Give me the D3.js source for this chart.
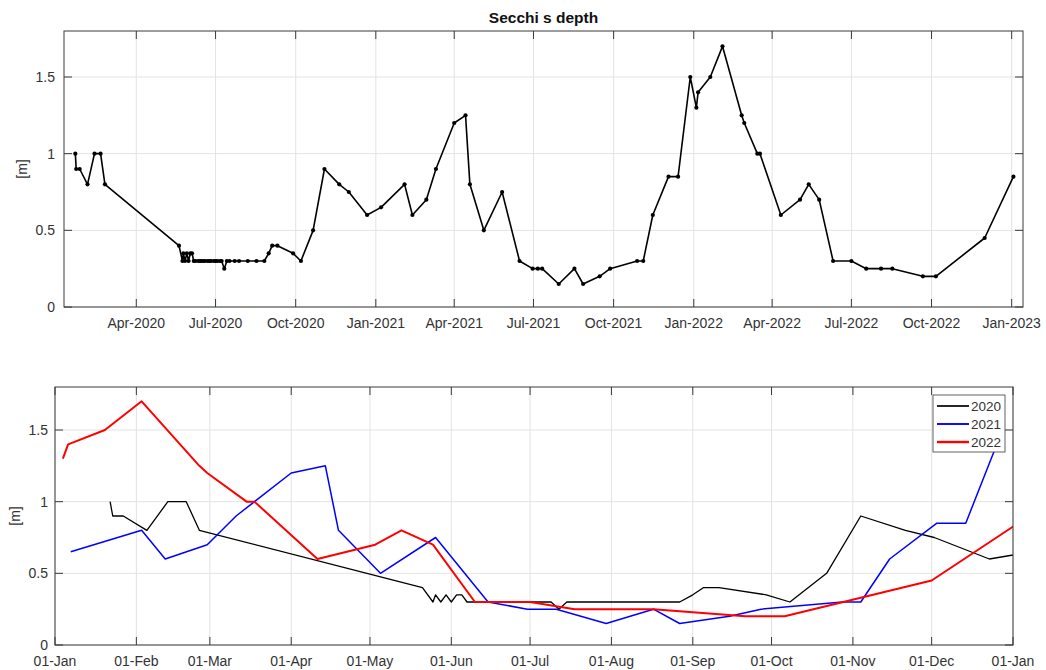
<!DOCTYPE html>
<html>
<head>
<meta charset="utf-8">
<script src="https://cdn.jsdelivr.net/npm/d3@7"></script>
<style>
  html, body { margin: 0; padding: 0; background: #fff; }
  svg { display: block; font-family: "Liberation Sans", Arial, sans-serif; }
</style>
</head>
<body>
<svg id="chart" width="1046" height="670"></svg>
<script>
// ---------------- DATA ----------------
const sampleDates = [
  "2020-01-22","2020-01-23","2020-01-27","2020-02-05","2020-02-13","2020-02-20","2020-02-25",
  "2020-05-20","2020-05-24","2020-05-25","2020-05-27","2020-05-29","2020-05-31","2020-06-02",
  "2020-06-04","2020-06-06","2020-06-08","2020-06-11","2020-06-13","2020-06-15","2020-06-17",
  "2020-06-19","2020-06-22","2020-06-24","2020-06-26","2020-06-29","2020-07-01","2020-07-03",
  "2020-07-06","2020-07-08","2020-07-11","2020-07-14","2020-07-17","2020-07-23","2020-07-28",
  "2020-08-07","2020-08-17","2020-08-26","2020-08-31","2020-09-04","2020-09-10","2020-09-28",
  "2020-10-07","2020-10-21","2020-11-03","2020-11-20","2020-12-01","2020-12-22",
  "2021-01-07","2021-02-03","2021-02-12","2021-02-28","2021-03-11","2021-04-01","2021-04-14",
  "2021-04-19","2021-05-05","2021-05-26","2021-06-15","2021-06-30","2021-07-06","2021-07-11",
  "2021-07-30","2021-08-17","2021-08-27","2021-09-15","2021-09-27","2021-10-28","2021-11-04",
  "2021-11-15","2021-12-03","2021-12-14","2021-12-28",
  "2022-01-04","2022-01-06","2022-01-20","2022-02-03","2022-02-25","2022-02-28","2022-03-15",
  "2022-03-18","2022-04-11","2022-05-03","2022-05-13","2022-05-25","2022-06-10","2022-07-01",
  "2022-07-18","2022-08-04","2022-08-17","2022-09-21","2022-10-06","2022-12-01","2023-01-03"
];
const secchiDepth = [
  1.00,0.90,0.90,0.80,1.00,1.00,0.80,
  0.40,0.30,0.35,0.30,0.35,0.30,0.35,
  0.35,0.30,0.30,0.30,0.30,0.30,0.30,
  0.30,0.30,0.30,0.30,0.30,0.30,0.30,
  0.30,0.30,0.25,0.30,0.30,0.30,0.30,
  0.30,0.30,0.30,0.35,0.40,0.40,0.35,
  0.30,0.50,0.90,0.80,0.75,0.60,
  0.65,0.80,0.60,0.70,0.90,1.20,1.25,
  0.80,0.50,0.75,0.30,0.25,0.25,0.25,
  0.15,0.25,0.15,0.20,0.25,0.30,0.30,
  0.60,0.85,0.85,1.50,
  1.30,1.40,1.50,1.70,1.25,1.20,1.00,
  1.00,0.60,0.70,0.80,0.70,0.30,0.30,
  0.25,0.25,0.25,0.20,0.20,0.45,0.85
];
// yearly overlay: which samples each year's line uses (start, end inclusive)
const overlayYears  = [2020, 2021, 2022];
const overlayStart  = ["2020-01-01", "2021-01-01", "2022-01-01"];
const overlayEnd    = ["2021-01-07", "2021-12-31", "2023-01-03"];
const overlayColors = ["#000000", "#0000ff", "#ff0000"];
const overlayWidths = [1.3, 1.5, 2];

const yTicks = [0, 0.5, 1, 1.5];
const titleText = "Secchi s depth";
const yLabel = "[m]";

// ---------------- DRAW ----------------
const parse = d3.utcParse("%Y-%m-%d");
const series = sampleDates.map((d, i) => ({ date: parse(d), v: secchiDepth[i] }));

const svg = d3.select("#chart");
const gridColor = "#e3e3e3";
const axisColor = "#3a3a3a";
const textColor = "#333333";

function frame(g, x, y, w, h, xTicks, xFmt, labelDy, yLabelX) {
  // grid
  g.append("g").selectAll("line").data(xTicks).join("line")
    .attr("x1", d => x(d)).attr("x2", d => x(d)).attr("y1", 0).attr("y2", h)
    .attr("stroke", gridColor).attr("stroke-width", 1);
  g.append("g").selectAll("line").data(yTicks).join("line")
    .attr("x1", 0).attr("x2", w).attr("y1", d => y(d)).attr("y2", d => y(d))
    .attr("stroke", gridColor).attr("stroke-width", 1);
}

function axesOverlay(g, x, y, w, h, xTicks, xFmt, yLabelX, ytickGap) {
  const tl = 8;
  // box
  g.append("rect").attr("x", 0).attr("y", 0).attr("width", w).attr("height", h)
    .attr("fill", "none").attr("stroke", axisColor).attr("stroke-width", 1);
  // inward ticks, all four sides
  const tk = g.append("g").attr("stroke", axisColor).attr("stroke-width", 1);
  xTicks.forEach(t => {
    tk.append("line").attr("x1", x(t)).attr("x2", x(t)).attr("y1", h).attr("y2", h - tl);
    tk.append("line").attr("x1", x(t)).attr("x2", x(t)).attr("y1", 0).attr("y2", tl);
  });
  yTicks.forEach(t => {
    tk.append("line").attr("x1", 0).attr("x2", tl).attr("y1", y(t)).attr("y2", y(t));
    tk.append("line").attr("x1", w).attr("x2", w - tl).attr("y1", y(t)).attr("y2", y(t));
  });
  // labels
  g.append("g").selectAll("text").data(xTicks).join("text")
    .attr("x", d => x(d)).attr("y", h + 21)
    .attr("text-anchor", "middle").attr("font-size", 14).attr("fill", textColor)
    .text(d => xFmt(d));
  g.append("g").selectAll("text").data(yTicks).join("text")
    .attr("x", -ytickGap).attr("y", d => y(d) + 5)
    .attr("text-anchor", "end").attr("font-size", 14).attr("fill", textColor)
    .text(d => String(d));
  g.append("text")
    .attr("transform", `translate(${yLabelX},${h / 2}) rotate(-90)`)
    .attr("text-anchor", "middle").attr("font-size", 14).attr("fill", textColor)
    .text(yLabel);
}

// ---------- top panel ----------
{
  const L = 64, T = 31, W = 959, H = 276;
  const g = svg.append("g").attr("transform", `translate(${L},${T})`);
  const x = d3.scaleUtc().domain([parse("2020-01-09"), parse("2023-01-14")]).range([0, W]);
  const y = d3.scaleLinear().domain([0, 1.8]).range([H, 0]);
  const xTicks = d3.utcMonth.every(3).range(x.domain()[0], x.domain()[1]);
  frame(g, x, y, W, H, xTicks);
  const line = d3.line().x(d => x(d.date)).y(d => y(d.v));
  g.append("path").datum(series).attr("d", line)
    .attr("fill", "none").attr("stroke", "#000").attr("stroke-width", 1.6)
    .attr("stroke-linejoin", "round");
  g.append("g").selectAll("circle").data(series).join("circle")
    .attr("cx", d => x(d.date)).attr("cy", d => y(d.v)).attr("r", 2.1).attr("fill", "#000");
  axesOverlay(g, x, y, W, H, xTicks, d3.utcFormat("%b-%Y"), -37, 9);
  svg.append("text").attr("x", L + W / 2).attr("y", 23)
    .attr("text-anchor", "middle").attr("font-size", 15.5).attr("font-weight", "bold")
    .attr("fill", "#111").text(titleText);
}

// ---------- bottom panel ----------
{
  const L = 55, T = 387, W = 958, H = 258;
  const g = svg.append("g").attr("transform", `translate(${L},${T})`);
  const ref0 = parse("2021-01-01"), ref1 = parse("2022-01-01");
  const x = d3.scaleUtc().domain([ref0, ref1]).range([0, W]);
  const y = d3.scaleLinear().domain([0, 1.8]).range([H, 0]);
  const xTicks = d3.utcMonth.range(ref0, d3.utcDay.offset(ref1, 1));
  frame(g, x, y, W, H, xTicks);

  svg.append("clipPath").attr("id", "clipB").append("rect")
    .attr("x", 0).attr("y", 0).attr("width", W).attr("height", H);
  const lines = g.append("g").attr("clip-path", "url(#clipB)");

  overlayYears.forEach((yr, i) => {
    const s = parse(overlayStart[i]), e = parse(overlayEnd[i]);
    const jan1 = Date.UTC(yr, 0, 1);
    const pts = series.filter(d => d.date >= s && d.date <= e).map(d => ({
      t: d3.utcDay.offset(ref0, Math.round((d.date - jan1) / 864e5)), v: d.v
    }));
    lines.append("path").datum(pts)
      .attr("d", d3.line().x(d => x(d.t)).y(d => y(d.v)))
      .attr("fill", "none").attr("stroke", overlayColors[i])
      .attr("stroke-width", overlayWidths[i]).attr("stroke-linejoin", "round");
  });

  axesOverlay(g, x, y, W, H, xTicks, d3.utcFormat("%d-%b"), -35, 7);

  // legend
  const lg = svg.append("g").attr("transform", "translate(933,395)");
  lg.append("rect").attr("x", 0).attr("y", 0).attr("width", 72).attr("height", 57)
    .attr("fill", "#fff").attr("stroke", axisColor).attr("stroke-width", 0.8);
  overlayYears.forEach((yr, i) => {
    const cy = 11 + i * 18;
    lg.append("line").attr("x1", 4).attr("x2", 36).attr("y1", cy).attr("y2", cy)
      .attr("stroke", overlayColors[i]).attr("stroke-width", overlayWidths[i] + 0.4);
    lg.append("text").attr("x", 38).attr("y", cy + 5).attr("font-size", 13.5)
      .attr("fill", textColor).text(String(yr));
  });
}
</script>
</body>
</html>
